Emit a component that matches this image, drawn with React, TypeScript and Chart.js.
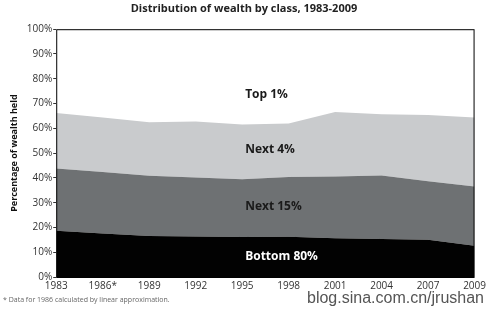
import React, { useEffect, useRef } from "react";
import { Chart, registerables } from "chart.js";

Chart.register(...registerables);

const years = ["1983", "1986*", "1989", "1992", "1995", "1998", "2001", "2004", "2007", "2009"];
const bottom80 = [18.7, 17.6, 16.5, 16.3, 16.1, 16.2, 15.6, 15.3, 15.0, 12.6];
const next15 = [25.1, 24.75, 24.4, 23.9, 23.3, 24.2, 25.0, 25.7, 23.6, 23.9];
const next4 = [22.4, 22.0, 21.6, 22.6, 22.1, 21.5, 26.0, 24.7, 26.8, 27.9];
const top1 = [33.8, 35.65, 37.5, 37.2, 38.5, 38.1, 33.4, 34.3, 34.6, 35.6];
const yTicks = [0, 10, 20, 30, 40, 50, 60, 70, 80, 90, 100];
const areaLabels = ["Top 1%", "Next 4%", "Next 15%", "Bottom 80%"];
const areaLabelValues = [73.5, 51.4, 28.6, 8.4];

const FONT = "'Open Sans', 'DejaVu Sans', sans-serif";

export default function App() {
  const ref = useRef<HTMLCanvasElement | null>(null);
  useEffect(() => {
    document.body.style.margin = "0";
    const labelPlugin = {
      id: "areaLabels",
      afterDatasetsDraw(chart: any) {
        const { ctx, chartArea, scales } = chart;
        ctx.save();
        ctx.strokeStyle = "#000";
        ctx.lineWidth = 1;
        ctx.strokeRect(chartArea.left + 0.5, chartArea.top + 0.5, chartArea.right - chartArea.left - 1, chartArea.bottom - chartArea.top);
        ctx.font = `bold 12px ${FONT}`;
        ctx.textBaseline = "middle";
        ctx.textAlign = "left";
        const x = scales.x.getPixelForValue(4) + 3;
        areaLabels.forEach((t, i) => {
          ctx.fillStyle = i === 3 ? "#fff" : "#1a1a1a";
          ctx.fillText(t, x, scales.y.getPixelForValue(areaLabelValues[i]));
        });
        ctx.restore();
      },
    };
    const chart = new Chart(ref.current!, {
      type: "line",
      data: {
        labels: years,
        datasets: [
          { label: "Bottom 80%", data: bottom80, backgroundColor: "#020202", fill: "origin" },
          { label: "Next 15%", data: next15, backgroundColor: "#6e7173", fill: "-1" },
          { label: "Next 4%", data: next4, backgroundColor: "#c9cbcd", fill: "-1" },
          { label: "Top 1%", data: top1, backgroundColor: "#ffffff", fill: "-1" },
        ].map((d) => ({ ...d, borderWidth: 0, pointRadius: 0, tension: 0, borderColor: "rgba(0,0,0,0)" })),
      },
      options: {
        animation: false,
        responsive: false,
        layout: { padding: { left: 9, right: 10, top: 0, bottom: 15 } },
        plugins: {
          legend: { display: false },
          tooltip: { enabled: false },
          title: {
            display: true,
            text: "Distribution of wealth by class, 1983-2009",
            color: "#222",
            font: { family: FONT, size: 11, weight: "bold" },
            padding: { top: 2, bottom: 14 },
          },
        },
        scales: {
          x: {
            type: "category",
            offset: false,
            grid: { display: false, drawTicks: false },
            border: { display: false },
            ticks: { color: "#333", font: { family: FONT, size: 10 }, padding: 3, maxRotation: 0, autoSkip: false },
          },
          y: {
            stacked: true,
            min: 0,
            max: 100,
            afterBuildTicks: (s: any) => {
              s.ticks = yTicks.map((v) => ({ value: v }));
            },
            grid: { drawOnChartArea: false, tickLength: 3, color: "#333" },
            border: { display: false },
            ticks: { color: "#333", font: { family: FONT, size: 10 }, padding: 1, callback: (v: any) => v + "%" },
            title: {
              display: true,
              text: "Percentage of wealth held",
              color: "#111",
              font: { family: FONT, size: 9, weight: "bold" },
              padding: { top: 0, bottom: 6 },
            },
          },
        },
      },
      plugins: [labelPlugin],
    });
    return () => chart.destroy();
  }, []);
  return (
    <div style={{ position: "relative", width: 489, height: 310, background: "#fff", overflow: "hidden" }}>
      <canvas ref={ref} width={489} height={310} style={{ display: "block" }} />
      <div style={{ position: "absolute", left: 3, top: 295, fontFamily: FONT, fontSize: 7, color: "#666" }}>
        * Data for 1986 calculated by linear approximation.
      </div>
      <div style={{ position: "absolute", right: 5, top: 289, fontFamily: "'Liberation Sans', Arial, sans-serif", fontSize: 16, color: "#555", textShadow: "1px 1px 0 #fff" }}>
        blog.sina.com.cn/jrushan
      </div>
    </div>
  );
}
